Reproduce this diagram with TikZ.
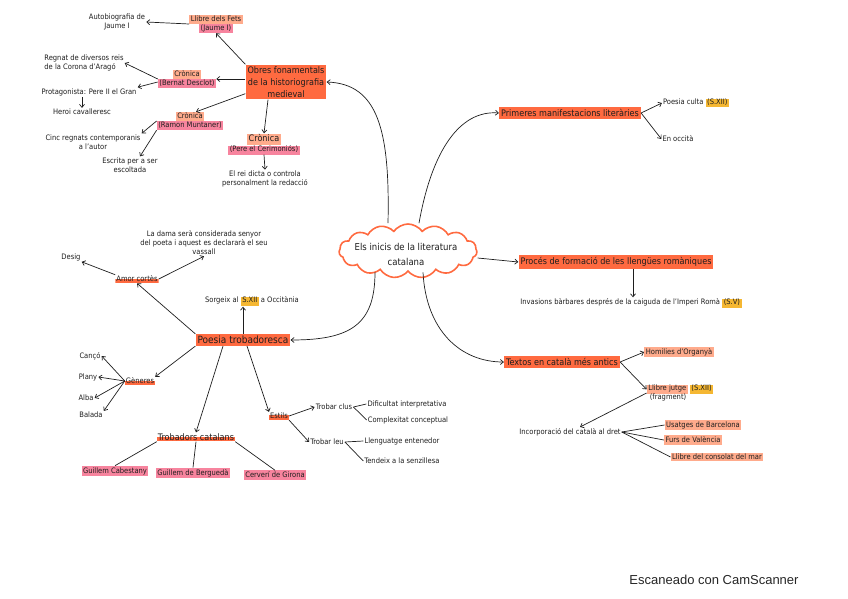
\documentclass[tikz,border=0pt]{standalone}
\usepackage{fontspec}
\setmainfont{DejaVu Sans Condensed}
\newfontfamily\scanfont{Liberation Sans}
\usetikzlibrary{positioning,shapes.symbols,arrows.meta}
\definecolor{hlred}{HTML}{FF6A40}
\definecolor{hlsalmon}{HTML}{FFAB8C}
\definecolor{hlpink}{HTML}{F7849E}
\definecolor{hlyellow}{HTML}{F5B732}
\definecolor{ink}{HTML}{1E1E1E}
\newcommand{\hlbox}[2]{{\setlength{\fboxsep}{0pt}\colorbox{#1}{\hspace{1.5pt}\strut#2\hspace{1.5pt}}}}

\begin{document}
\begin{tikzpicture}[x=1pt, y=-1pt,
  hub/.style={fill=hlred, text=ink, align=center, inner sep=2pt, font=\fontsize{9}{11}\selectfont},
  leaf/.style={text=ink, align=center, inner sep=1pt, font=\fontsize{7.5}{9}\selectfont},
  tag/.style={leaf, inner sep=0pt},
  salmon/.style={leaf, fill=hlsalmon, inner sep=1.5pt},
  pinkbox/.style={leaf, fill=hlpink, inner sep=1.5pt},
  strip/.style={leaf, path picture={\fill[hlred] (path picture bounding box.south west) rectangle ([yshift=4.5pt]path picture bounding box.south east);}},
  link/.style={draw=ink, line width=0.7pt},
  >={Straight Barb[length=3pt,width=5pt]}
]
\useasboundingbox (0,0) rectangle (848,599);

% centre
\node[cloud, cloud puffs=15, cloud puff arc=110, cloud ignores aspect, draw=hlred, line width=1.6pt,
  minimum width=138pt, minimum height=54pt, inner sep=0pt] (inicis) at (408,251) {};
\node[leaf, font=\fontsize{9.5}{15}\selectfont] (inicisT) at (406,254) {Els inicis de la literatura\\catalana};

% historiografia
\node[hub, font=\fontsize{9}{12}\selectfont] (obres) at (286,82) {Obres fonamentals\\de la historiografia\\medieval};
\node[tag] (fets) at (216,24) {\hlbox{hlsalmon}{Llibre dels Fets}\\\hlbox{hlpink}{(Jaume I)}};
\node[leaf] (autobio) at (117,22) {Autobiografia de\\Jaume I};
\node[tag] (desclot) at (187,79) {\hlbox{hlsalmon}{Crònica}\\\hlbox{hlpink}{(Bernat Desclot)}};
\node[leaf, align=left] (regnat) at (84,63) {Regnat de diversos reis\\de la Corona d'Aragó};
\node[leaf] (protag) at (89,92) {Protagonista: Pere II el Gran};
\node[leaf] (heroi) at (82,112) {Heroi cavalleresc};
\node[tag] (muntaner) at (190,121) {\hlbox{hlsalmon}{Crònica}\\\hlbox{hlpink}{(Ramon Muntaner)}};
\node[leaf] (cinc) at (93,142) {Cinc regnats contemporanis\\a l'autor};
\node[leaf] (escrita) at (130,165) {Escrita per a ser\\escoltada};
\node[tag] (cerimonios) at (264,144) {{\fontsize{9}{11}\selectfont\hlbox{hlsalmon}{Crònica}}\\\hlbox{hlpink}{(Pere el Cerimoniós)}};
\node[leaf] (rei) at (265,179) {El rei dicta o controla\\personalment la redacció};

\draw[link,->] (obres.north west) -- (fets.south);
\draw[link,->] (fets.west) -- (autobio.east);
\draw[link,->] (obres.west |- desclot.east) -- (desclot.east);
\draw[link,->] (desclot.west) -- (regnat.east);
\draw[link,->] ([yshift=-3pt]desclot.west) -- (protag.north east);
\draw[link,->] (protag.south -| heroi) -- (heroi.north);
\draw[link,->] ([yshift=6pt]obres.south west) -- ([xshift=6pt]muntaner.north);
\draw[link,->] (muntaner.west) -- (cinc.north east);
\draw[link,->] (muntaner.south west) -- ([xshift=10pt]escrita.north);
\draw[link,->] ([xshift=-18pt]obres.south) -- (cerimonios.north);
\draw[link,->] (cerimonios.south) -- (rei.north);

% primeres manifestacions
\node[hub] (primeres) at (570,113) {Primeres manifestacions literàries};
\node[leaf] (culta) at (696,103) {Poesia culta \hlbox{hlyellow}{(S.XII)}};
\node[leaf] (occita) at (678,139) {En occità};
\draw[link,->] (primeres.east) -- (culta.west);
\draw[link,->] (primeres.east) -- (occita.west);

% llengues romaniques
\node[hub] (proces) at (616,262) {Procés de formació de les llengües romàniques};
\node[leaf] (invasions) at (631,303) {Invasions bàrbares després de la caiguda de l'Imperi Romà \hlbox{hlyellow}{(S.V)}};
\draw[link,->] ([xshift=17pt]proces.south) -- ([xshift=2pt]invasions.north);

% textos antics
\node[hub] (textos) at (562,362) {Textos en català més antics};
\node[salmon] (homilies) at (679,352) {Homilies d'Organyà};
\node[tag, align=left] (jutge) at (680,393) {\hlbox{hlsalmon}{Llibre jutge} \hlbox{hlyellow}{(S.XII)}\\\hspace{3pt}(fragment)};
\node[leaf] (incorp) at (570,432) {Incorporació del català al dret};
\node[salmon] (usatges) at (703,425) {Usatges de Barcelona};
\node[salmon] (furs) at (693,440) {Furs de València};
\node[salmon] (consolat) at (717,457) {Llibre del consolat del mar};
\draw[link,->] (textos.east) -- (homilies.west);
\draw[link,->] (textos.east) -- ([yshift=-5pt]jutge.north west);
\draw[link,->] (jutge.west) -- ([xshift=10pt]incorp.north);
\draw[link] (incorp.east) -- (usatges.west);
\draw[link] (incorp.east) -- (furs.west);
\draw[link] (incorp.east) -- (consolat.west);

% poesia trobadoresca
\node[hub, font=\fontsize{10}{12}\selectfont] (poesia) at (243,340) {Poesia trobadoresca};
\node[leaf] (sorgeix) at (252,301) {Sorgeix al \hlbox{hlyellow}{S.XII} a Occitània};
\node[strip] (amor) at (137,279) {Amor cortès};
\node[leaf] (desig) at (71,257) {Desig};
\node[leaf] (dama) at (204,243) {La dama serà considerada senyor\\del poeta i aquest es declararà el seu\\vassall};
\node[strip] (generes) at (140,381) {Gèneres};
\node[leaf] (canco) at (90,356) {Cançó};
\node[leaf] (plany) at (88,377) {Plany};
\node[leaf] (alba) at (86,398) {Alba};
\node[leaf] (balada) at (91,415) {Balada};
\node[strip, font=\fontsize{9}{11}\selectfont] (trobadors) at (196,437) {Trobadors catalans};
\node[pinkbox] (cabestany) at (115,471) {Guillem Cabestany};
\node[pinkbox] (bergueda) at (193,473) {Guillem de Berguedà};
\node[pinkbox] (cerveri) at (275,475) {Cerverí de Girona};
\node[strip] (estils) at (279,416) {Estils};
\node[leaf] (clus) at (334,407) {Trobar clus};
\node[leaf] (leu) at (327,442) {Trobar leu};
\node[leaf] (dificultat) at (407,404) {Dificultat interpretativa};
\node[leaf] (complexitat) at (408,420) {Complexitat conceptual};
\node[leaf] (llenguatge) at (402,441) {Llenguatge entenedor};
\node[leaf] (tendeix) at (402,461) {Tendeix a la senzillesa};

\draw[link,->] (poesia.north) -- (poesia.north |- sorgeix.south);
\draw[link,->] (poesia.north west) -- (amor.south);
\draw[link,->] (amor.north west) -- (desig.south east);
\draw[link,->] (amor.east) -- (dama.south);
\draw[link,->] (poesia.south west) -- (generes.north east);
\draw[link,->] (generes.west) -- (canco.east);
\draw[link,->] (generes.west) -- (plany.east);
\draw[link,->] (generes.west) -- (alba.east);
\draw[link,->] (generes.west) -- (balada.north east);
\draw[link,->] ([xshift=-20pt]poesia.south) -- (trobadors.north);
\draw[link] (trobadors.south west) -- (cabestany.north);
\draw[link] (trobadors.south) -- (bergueda.north);
\draw[link] (trobadors.south east) -- (cerveri.north);
\draw[link,->] ([xshift=4pt]poesia.south) -- (estils.north west);
\draw[link,->] (estils.east) -- (clus.west);
\draw[link,->] (estils.south east) -- (leu.west);
\draw[link] (clus.east) -- (dificultat.west);
\draw[link] (clus.east) -- (complexitat.west);
\draw[link] (leu.east) -- (llenguatge.west);
\draw[link] (leu.east) -- (tendeix.west);

% branques del centre
\draw[link,->] ([xshift=-20pt]inicis.north) .. controls (390,130) and (378,84) .. (obres.east);
\draw[link,->] ([xshift=11pt]inicis.north) .. controls (432,150) and (460,110) .. (primeres.west);
\draw[link,->] ([yshift=-7pt]inicis.east) -- (proces.west);
\draw[link,->] ([xshift=-33pt]inicis.south) .. controls (375,325) and (350,340) .. (poesia.east);
\draw[link,->] ([xshift=15pt]inicis.south) .. controls (426,330) and (460,362) .. (textos.west);

\node[font=\scanfont\fontsize{13}{15}\selectfont, text=black!85] (scan) at (714,580) {Escaneado con CamScanner};
\end{tikzpicture}
\end{document}
